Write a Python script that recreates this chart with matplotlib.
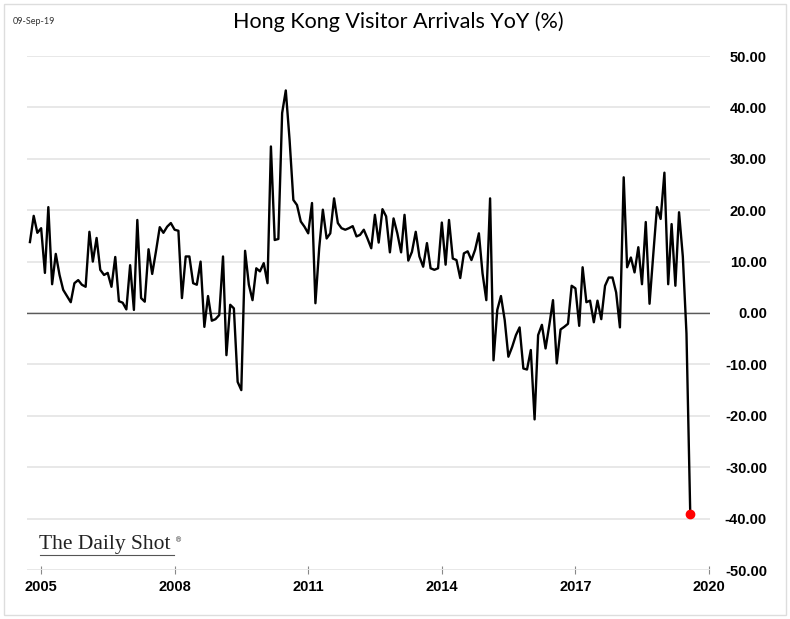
import matplotlib.pyplot as plt
import numpy as np
import pandas as pd
from matplotlib.lines import Line2D
from matplotlib.patches import Rectangle

# Hong Kong visitor arrivals, YoY % (monthly, Oct 2004 - Aug 2019)
yoy = [
    13.8, 18.9, 15.6, 16.5, 7.8, 20.6, 5.6, 11.5, 7.4, 4.5,
    3.3, 2.1, 5.8, 6.4, 5.5, 5.1, 15.8, 10.0, 14.6, 8.4,
    7.4, 7.8, 5.1, 10.9, 2.3, 2.0, 0.7, 9.3, 0.6, 18.1,
    2.9, 2.2, 12.4, 7.6, 12.0, 16.7, 15.6, 16.8, 17.5, 16.2,
    16.0, 2.9, 11.0, 11.0, 5.8, 5.5, 10.0, -2.7, 3.3, -1.5,
    -1.2, -0.4, 11.0, -8.2, 1.6, 0.9, -13.4, -15.0, 12.1, 5.5,
    2.5, 8.7, 8.1, 9.7, 5.8, 32.4, 14.2, 14.4, 38.9, 43.3,
    33.7, 22.0, 21.0, 17.8, 16.8, 15.5, 21.4, 1.9, 12.6, 20.1,
    14.5, 15.5, 22.3, 17.5, 16.5, 16.2, 16.5, 16.9, 14.9, 15.2,
    16.2, 14.5, 12.6, 19.1, 13.7, 20.2, 18.8, 11.8, 18.4, 15.5,
    11.8, 19.1, 10.2, 11.9, 15.8, 11.0, 9.0, 13.6, 8.7, 8.4,
    8.7, 17.6, 9.4, 18.1, 10.6, 10.3, 6.8, 11.6, 12.0, 10.3,
    12.3, 15.5, 7.7, 2.5, 22.3, -9.2, 0.6, 3.3, -1.4, -8.5,
    -6.6, -4.3, -2.8, -10.8, -11.0, -7.2, -20.7, -4.3, -2.3, -6.9,
    -2.3, 2.5, -9.8, -3.2, -2.7, -2.1, 5.3, 4.8, -2.5, 8.9,
    2.1, 2.4, -1.8, 2.4, -1.2, 5.3, 6.9, 6.9, 4.0, -2.8,
    26.4, 8.9, 10.8, 7.9, 12.8, 5.6, 17.7, 1.8, 11.2, 20.6,
    18.3, 27.3, 5.6, 17.3, 5.3, 19.6, 11.0, -4.0, -39.1,
]
dates = pd.date_range(end="2019-08-01", periods=len(yoy), freq="MS")

year_ticks = ["2005", "2008", "2011", "2014", "2017", "2020"]
y_ticks = list(range(-50, 51, 10))

W, H = 790, 619
fig = plt.figure(figsize=(W / 100, H / 100), dpi=100)
ax = fig.add_axes([27 / W, 1 - 570 / H, (710 - 27) / W, (570 - 56) / H])

ax.plot(dates, yoy, color="black", lw=1.7, solid_joinstyle="round", zorder=3)
ax.plot(dates[-1:], yoy[-1:], "o", color="red", ms=6, zorder=4)
ax.axhline(0, color="#5a5a5a", lw=1, zorder=2)

ax.set_ylim(-50, 50)
ax.set_xlim(pd.Timestamp("2004-09-07"), pd.Timestamp("2020-01-10"))

ax.set_yticks(y_ticks)
ax.set_yticklabels([f"{v:.2f}" for v in y_ticks])
ax.yaxis.tick_right()
ax.tick_params(axis="y", length=0, pad=41)
for lbl in ax.get_yticklabels():
    lbl.set_ha("right")
    lbl.set_fontfamily("Liberation Sans")
    lbl.set_fontweight("bold")
    lbl.set_fontsize(10.5)

ax.set_xticks([pd.Timestamp(f"{y}-01-01") for y in year_ticks])
ax.set_xticklabels(year_ticks)
ax.tick_params(axis="x", direction="inout", length=6, color="#888888", pad=4)
for lbl in ax.get_xticklabels():
    lbl.set_fontfamily("Liberation Sans")
    lbl.set_fontweight("bold")
    lbl.set_fontsize(10.5)

ax.grid(axis="y", color="#e6e6e6", lw=1.3)
ax.set_axisbelow(True)
for s in ax.spines.values():
    s.set_visible(False)

# titles and logo
fig.text(398 / W, 1 - 22 / H, "Hong Kong Visitor Arrivals YoY (%)",
         family="Lato", size=15.5, ha="center", va="center")
fig.text(13 / W, 1 - 22 / H, "09-Sep-19", family="Lato", size=6.5,
         ha="left", va="center", color="#333333")
fig.text(39 / W, 1 - 545 / H, "The Daily Shot", family="Liberation Serif",
         size=15.5, ha="left", va="center", color="#222222")
fig.text(175 / W, 1 - 540 / H, "®", family="DejaVu Serif", size=5,
         ha="left", va="center", color="#222222")
fig.add_artist(Line2D([40 / W, 174 / W], [1 - 555 / H, 1 - 555 / H],
                      transform=fig.transFigure, color="#555555", lw=0.8))

fig.patches.append(Rectangle((4 / W, 4 / H), 1 - 8 / W, 1 - 8 / H,
                             transform=fig.transFigure, fill=False,
                             ec="#dddddd", lw=1))

fig.savefig("out.png", dpi=100)
